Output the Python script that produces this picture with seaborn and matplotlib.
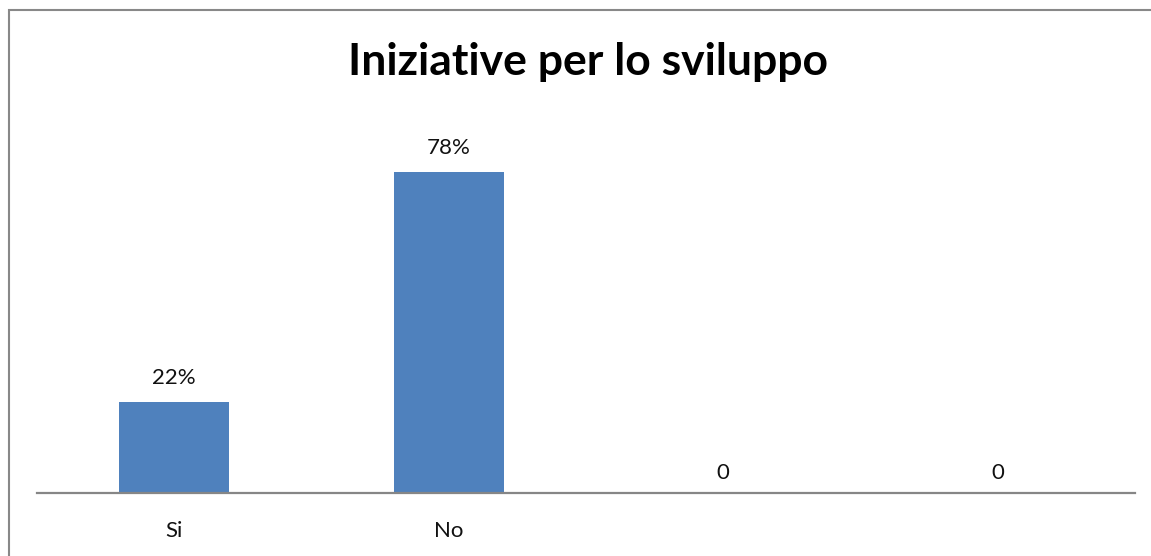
import matplotlib
matplotlib.use("Agg")
import matplotlib.pyplot as plt
import seaborn as sns
import pandas as pd
from matplotlib.patches import Rectangle

categories = ["Si", "No", "cat3", "cat4"]
tick_labels = ["Si", "No", "", ""]
values = [0.22, 0.78, 0.0, 0.0]
title = "Iniziative per lo sviluppo"

sns.set_style("white")
plt.rcParams["font.family"] = ["Lato", "DejaVu Sans"]

W, H = 1151, 556
fig = plt.figure(figsize=(W / 100, H / 100), dpi=100)

ymax = 0.9
ax_left, ax_right = 37 / W, 1135 / W
ax_bottom = 1 - 493 / H
ax_height = (ymax * 412) / H
ax = fig.add_axes([ax_left, ax_bottom, ax_right - ax_left, ax_height])

df = pd.DataFrame({"cat": categories, "val": values})
sns.barplot(data=df, x="cat", y="val", order=categories, color="#4F81BD",
            saturation=1, width=0.4, linewidth=0, ax=ax)

ax.set_ylim(0, ymax)
ax.set_xlim(-0.5, len(categories) - 0.5)
ax.set_xticks(range(len(categories)))
ax.set_xticklabels(tick_labels, fontsize=16, color="#111111")
for lbl in ax.get_xticklabels():
    lbl.set_va("baseline")
ax.set_yticks([])
ax.set_xlabel("")
ax.set_ylabel("")
ax.tick_params(axis="x", length=0, pad=31.5)
for s in ["top", "right", "left"]:
    ax.spines[s].set_visible(False)
ax.spines["bottom"].set_color("#868686")
ax.spines["bottom"].set_linewidth(1.6)

# value labels: percentages above bars, plain zero for empty categories
for i, v in enumerate(values):
    label = f"{round(v * 100):d}%" if v > 0 else "0"
    offset = 13 if v > 0 else 10
    ax.annotate(label, (i, v), xytext=(0, offset), textcoords="offset points",
                ha="center", va="baseline", fontsize=16, color="#111111")

fig.text(588 / W, 1 - 75 / H, title, ha="center", va="baseline",
         fontsize=32, fontweight="bold", color="black")

# outer chart frame
fig.patches.append(Rectangle((8.5 / W, -0.1), 1.2, (1 - 9.5 / H) + 0.1,
                             transform=fig.transFigure, fill=False,
                             edgecolor="#888888", linewidth=1.5, clip_on=False))

fig.savefig("out.png", dpi=100, facecolor="white")
